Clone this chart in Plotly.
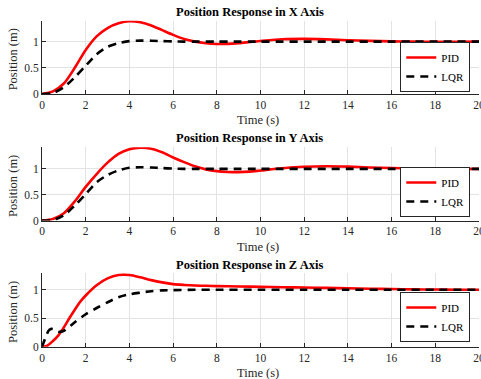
import plotly.graph_objects as go

# ---------------- data ----------------
t = [0, 0.5, 1, 1.5, 2, 2.5, 3, 3.5, 4, 4.5, 5, 5.5, 6, 6.5, 7, 7.5, 8, 8.5, 9, 9.5,
     10, 11, 12, 13, 14, 15, 16, 17, 18, 19, 20]

pid_x = [0, 0.05, 0.2, 0.5, 0.84, 1.1, 1.26, 1.35, 1.39, 1.37, 1.31, 1.22, 1.13, 1.05,
         1.0, 0.97, 0.956, 0.958, 0.972, 0.992, 1.012, 1.045, 1.052, 1.043, 1.028, 1.014,
         1.005, 1.0, 0.998, 0.999, 1.0]
lqr_x = [0, 0.02, 0.13, 0.32, 0.54, 0.76, 0.9, 0.97, 1.01, 1.02, 1.018, 1.01, 1.004, 1.0,
         1.0, 1.0, 1.0, 1.0, 1.0, 1.0, 1.0, 1.0, 1.0, 1.0, 1.0, 1.0, 1.0, 1.0, 1.0, 1.0, 1.0]

pid_y = [0, 0.03, 0.14, 0.37, 0.65, 0.9, 1.12, 1.29, 1.38, 1.41, 1.39, 1.32, 1.22, 1.13,
         1.05, 0.99, 0.956, 0.94, 0.936, 0.946, 0.968, 1.012, 1.04, 1.05, 1.042, 1.027,
         1.015, 1.006, 1.0, 0.998, 0.999]
lqr_y = [0, 0.01, 0.1, 0.29, 0.51, 0.74, 0.88, 0.97, 1.02, 1.03, 1.025, 1.015, 1.005, 1.0,
         1.0, 1.0, 1.0, 1.0, 1.0, 1.0, 1.0, 1.0, 1.0, 1.0, 1.0, 1.0, 1.0, 1.0, 1.0, 1.0, 1.0]

t_z = [0, 0.25, 0.5, 0.75, 1, 1.25, 1.5, 1.75, 2, 2.5, 3, 3.5, 4, 4.5, 5, 5.5, 6, 6.5, 7,
       7.5, 8, 9, 10, 11, 12, 13, 14, 15, 16, 17, 18, 19, 20]
pid_z = [0, 0.02, 0.1, 0.2, 0.34, 0.5, 0.65, 0.79, 0.9, 1.08, 1.2, 1.26, 1.26, 1.22, 1.17,
         1.13, 1.1, 1.085, 1.075, 1.07, 1.065, 1.058, 1.052, 1.046, 1.04, 1.034, 1.026,
         1.019, 1.013, 1.008, 1.005, 1.002, 1.0]

t_lqr_z = [0, 0.1, 0.2, 0.3, 0.4, 0.5, 0.6, 0.8, 1.0, 1.5, 2, 2.5, 3, 3.5, 4, 4.5, 5, 5.5,
           6, 7, 8, 10, 12, 14, 16, 18, 20]
lqr_z = [0, 0.1, 0.2, 0.28, 0.31, 0.31, 0.29, 0.26, 0.28, 0.43, 0.57, 0.68, 0.78, 0.87,
         0.92, 0.95, 0.975, 0.99, 0.995, 1.0, 1.0, 1.0, 1.0, 1.0, 1.0, 1.0, 1.0]

titles = ["Position Response in X Axis", "Position Response in Y Axis",
          "Position Response in Z Axis"]
x_ticks = [0, 2, 4, 6, 8, 10, 12, 14, 16, 18, 20]
y_ticks = [0, 0.5, 1]
y_tick_text = ["0", "0.5", "1"]
series_names = ["PID", "LQR"]

# ---------------- layout geometry ----------------
W, H = 481, 379
ML, MR = 42, 2.3
PW = W - ML - MR
FONT = "Liberation Serif"
AX = "#262626"
GRID = "#e3e3e3"


def px_x(px):
    return (px - ML) / PW


def px_y(py):
    return (H - py) / H


panels = [(20.7, 94.0), (147.3, 220.5), (273.3, 346.7)]
y_ranges = [[0, 1.40], [0, 1.417], [0, 1.29]]
title_y = [12, 138, 264.5]
xlabel_y = [120, 246.5, 372.5]
legend_bottom = [92, 217, 342]

data_sets = [(t, pid_x, t, lqr_x), (t, pid_y, t, lqr_y), (t_z, pid_z, t_lqr_z, lqr_z)]

fig = go.Figure()
annotations = []
layout = dict()

for i, (tp, yp, tl, yl) in enumerate(data_sets):
    n = "" if i == 0 else str(i + 1)
    leg = "legend" if i == 0 else f"legend{i + 1}"
    fig.add_trace(go.Scatter(x=tp, y=yp, mode="lines", name=series_names[0],
                             line=dict(color="#ff0000", width=2.6, shape="spline", smoothing=0.8),
                             xaxis="x" + n, yaxis="y" + n, legend=leg))
    fig.add_trace(go.Scatter(x=tl, y=yl, mode="lines", name=series_names[1],
                             line=dict(color="#000000", width=2.6, dash="8px,6px",
                                       shape="spline", smoothing=0.8),
                             xaxis="x" + n, yaxis="y" + n, legend=leg))
    top, bot = panels[i]
    common = dict(showgrid=True, gridcolor=GRID, gridwidth=1, zeroline=False,
                  showline=True, linecolor=AX, linewidth=1, ticks="inside", ticklen=4,
                  tickcolor=AX, tickfont=dict(family=FONT, size=11.5, color=AX),
                  automargin=False, fixedrange=True, ticklabeloverflow="allow")
    layout["xaxis" + n] = dict(domain=[0, 1], range=[0, 20], anchor="y" + n,
                               tickvals=x_ticks, **common)
    layout["yaxis" + n] = dict(domain=[px_y(bot), px_y(top)], range=y_ranges[i],
                               anchor="x" + n, tickvals=y_ticks, ticktext=y_tick_text,
                               **common)
    layout[leg] = dict(
        x=px_x(470), y=px_y(legend_bottom[i]), xanchor="right", yanchor="bottom",
        xref="paper", yref="paper",
        bgcolor="white", bordercolor=AX, borderwidth=1,
        font=dict(family=FONT, size=11, color="#000000"),
        tracegroupgap=0, itemwidth=30)
    annotations.append(dict(text="<b>" + titles[i] + "</b>", x=px_x(249.5), y=px_y(title_y[i]),
                            xref="paper", yref="paper", showarrow=False,
                            xanchor="center", yanchor="middle",
                            font=dict(family=FONT, size=12.5, color="#000000")))
    annotations.append(dict(text="Time (s)", x=px_x(258), y=px_y(xlabel_y[i]),
                            xref="paper", yref="paper", showarrow=False,
                            xanchor="center", yanchor="middle",
                            font=dict(family=FONT, size=12.5, color=AX)))
    annotations.append(dict(text="Position (m)", x=px_x(13), y=px_y((top + bot) / 2 + 2),
                            xref="paper", yref="paper", showarrow=False, textangle=-90,
                            xanchor="center", yanchor="middle",
                            font=dict(family=FONT, size=12.5, color=AX)))

fig.update_layout(
    width=W, height=H, template="none",
    font=dict(family=FONT, color=AX),
    margin=dict(l=ML, r=MR, t=0, b=0, autoexpand=False),
    paper_bgcolor="white", plot_bgcolor="white",
    showlegend=True, annotations=annotations, **layout)

fig.write_html("out.html", config={"displayModeBar": False})
